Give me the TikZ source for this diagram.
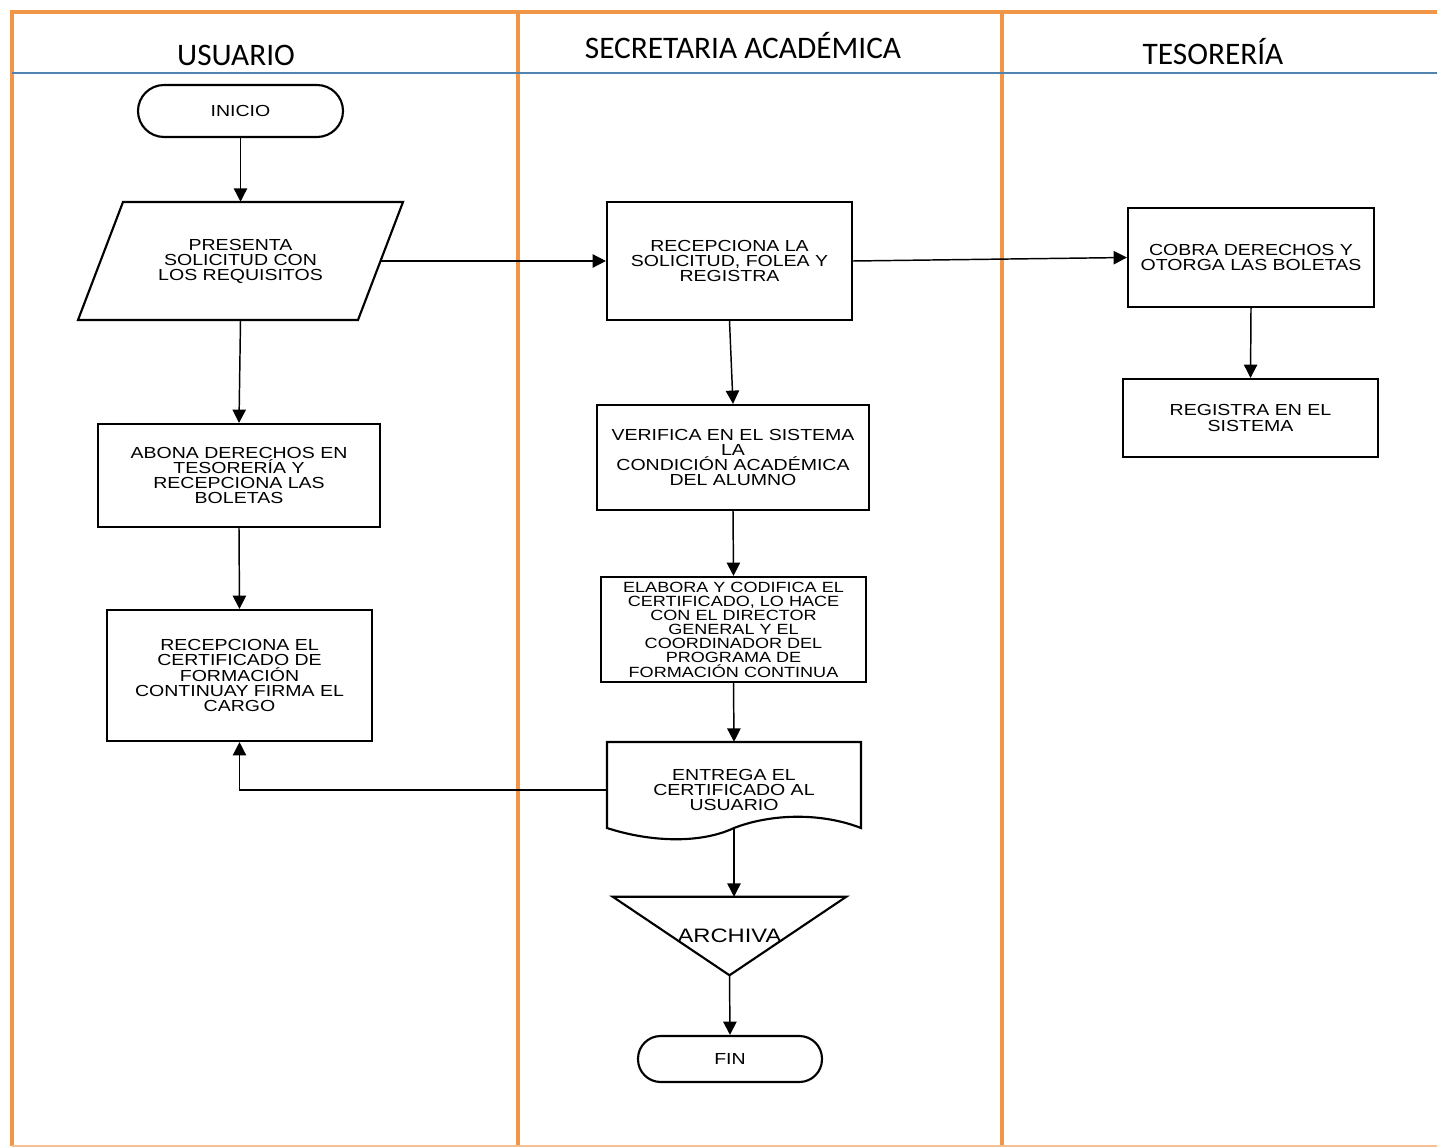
\documentclass[tikz,border=0pt]{standalone}
\usepackage{fontspec}
\usetikzlibrary{arrows.meta,calc}
\setmainfont{Liberation Sans}
\newfontfamily\boxfont[FakeStretch=1.22]{Liberation Sans}
\newfontfamily\headfont{Carlito}
\definecolor{laneorange}{RGB}{240,150,70}
\definecolor{headblue}{RGB}{84,130,175}
\begin{document}
\begin{tikzpicture}[x=0.75pt,y=-0.75pt,
  lane/.style={draw=laneorange,line width=3pt},
  boxtext/.style={align=center,inner sep=0pt,font=\boxfont\fontsize{12}{11.3}\selectfont},
  stepbox/.style={boxtext,draw,line width=1.6pt},
  ghost/.style={boxtext},
  shapeline/.style={line width=1.6pt,line join=miter},
  conn/.style={line width=1.1pt,-{Triangle[length=10pt,width=10pt]}},
  lanehead/.style={font=\headfont\fontsize{23.5}{28}\selectfont,anchor=base,inner sep=0pt}]
\useasboundingbox (0,0) rectangle (1437,1148);
% lanes
\draw[lane] (12,1146) -- (12,12) -- (1437,12);
\draw[lane] (518,12) -- (518,1146);
\draw[lane] (1002,12) -- (1002,1146);
\draw[laneorange!60,line width=2pt] (12,1146) -- (1437,1146);
\draw[headblue,line width=1.5pt] (12,73) -- (1437,73);
\node[lanehead] (hU) at (236,66) {USUARIO};
\node[lanehead] (hS) at (743,59) {SECRETARIA ACADÉMICA};
\node[lanehead] (hT) at (1213,65) {TESORERÍA};
% usuario
\node[stepbox,rounded corners=19.5pt,minimum width=153.75pt,minimum height=39pt] (inicio) at (240.5,111) {INICIO};
\node[ghost,minimum width=210pt,minimum height=88.5pt] (par) at (240.5,261) {PRESENTA\\SOLICITUD CON\\LOS REQUISITOS};
\draw[shapeline] (123,202) -- (403,202) -- (358,320) -- (78,320) -- cycle;
\node[stepbox,minimum width=211.5pt,minimum height=77.25pt] (abona) at (239,475.5) {ABONA DERECHOS EN\\TESORERÍA Y\\RECEPCIONA LAS\\BOLETAS};
\node[stepbox,minimum width=198.75pt,minimum height=98.25pt] (recel) at (239.5,675.5) {RECEPCIONA EL\\CERTIFICADO DE\\FORMACIÓN\\CONTINUAY FIRMA EL\\CARGO};
% secretaria
\node[stepbox,minimum width=183.75pt,minimum height=88.5pt] (recla) at (729.5,261) {RECEPCIONA LA\\SOLICITUD, FOLEA Y\\REGISTRA};
\node[stepbox,minimum width=204pt,minimum height=78.75pt] (verif) at (733,457.5) {VERIFICA EN EL SISTEMA\\LA\\CONDICIÓN ACADÉMICA\\DEL ALUMNO};
\node[stepbox,minimum width=198.75pt,minimum height=78.75pt,font=\boxfont\fontsize{11.1}{10.6}\selectfont] (elab) at (733.5,629.5) {ELABORA Y CODIFICA EL\\CERTIFICADO, LO HACE\\CON EL DIRECTOR\\GENERAL Y EL\\COORDINADOR DEL\\PROGRAMA DE\\FORMACIÓN CONTINUA};
\node[ghost,minimum width=190.5pt,minimum height=72pt] (entrega) at (734,790) {ENTREGA EL\\CERTIFICADO AL\\USUARIO};
\draw[shapeline] (607,742) -- (861,742) -- (861,828)
  .. controls (820,812) and (770,814) .. (734,828)
  .. controls (700,844) and (650,842) .. (607,828) -- cycle;
\coordinate (ewave) at (734,828);
\node[ghost,minimum width=174.75pt,minimum height=58.5pt,font=\boxfont\fontsize{14.6}{15}\selectfont] (archiva) at (729.5,936) {ARCHIVA};
\draw[shapeline] (archiva.north west) -- (archiva.north east) -- (archiva.south) -- cycle;
\node[stepbox,rounded corners=17pt,minimum width=138pt,minimum height=34.5pt] (fin) at (730,1059) {FIN};
% tesoreria
\node[stepbox,minimum width=184.5pt,minimum height=74.25pt] (cobra) at (1251,257.5) {COBRA DERECHOS Y\\OTORGA LAS BOLETAS};
\node[stepbox,minimum width=191.25pt,minimum height=58.5pt] (regis) at (1250.5,418) {REGISTRA EN EL\\SISTEMA};
% connectors
\draw[conn] (inicio.south) -- (par.north);
\draw[conn] (par.south) -- (abona.north);
\draw[conn] (abona.south) -- (recel.north);
\draw[conn] (par.east) -- (recla.west);
\draw[conn] (recla.east) -- (cobra.west);
\draw[conn] (cobra.south) -- (regis.north);
\draw[conn] (recla.south) -- (verif.north);
\draw[conn] (verif.south) -- (elab.north);
\draw[conn] (elab.south) -- (entrega.north);
\draw[conn] (ewave) -- (ewave |- archiva.north);
\draw[conn] (archiva.south) -- (fin.north);
\draw[conn] (entrega.west) -| (recel.south);
\end{tikzpicture}
\end{document}
